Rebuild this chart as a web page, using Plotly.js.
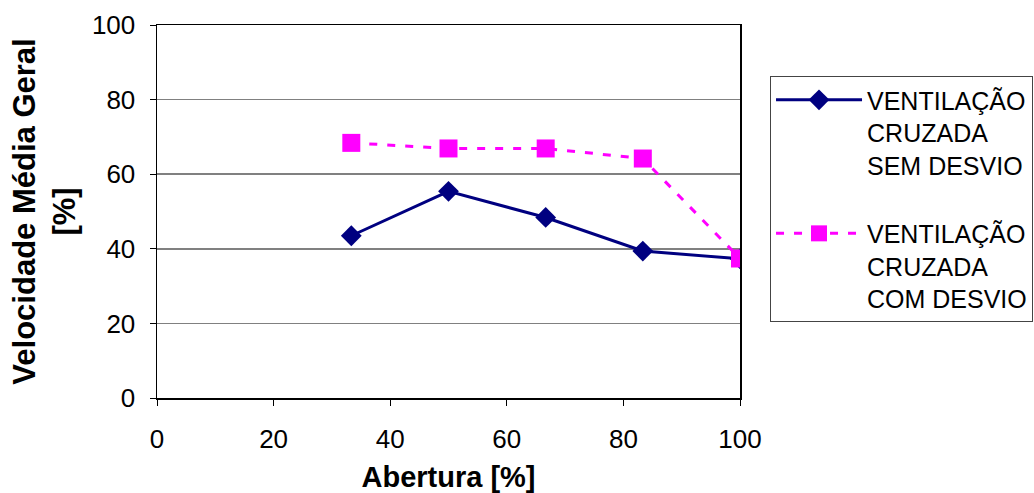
<!DOCTYPE html>
<html>
<head>
<meta charset="utf-8">
<script src="https://cdn.plot.ly/plotly-3.0.1.min.js"></script>
<style>html,body{margin:0;padding:0;background:#fff;}#chart{width:1034px;height:493px;}</style>
</head>
<body>
<div id="chart"></div>
<script>
const abertura = [33.33, 50, 66.67, 83.33, 100];
const semDesvio = [43.5, 55.4, 48.4, 39.4, 37.3];
const comDesvio = [68.4, 66.9, 66.9, 64.2, 37.4];
const serieNames = ["VENTILAÇÃO<br>CRUZADA<br>SEM DESVIO", "VENTILAÇÃO<br>CRUZADA<br>COM DESVIO"];
const xTicks = [0, 20, 40, 60, 80, 100];
const yTicks = [0, 20, 40, 60, 80, 100];

const font = "Liberation Sans, Arial, sans-serif";

const traces = [
  {
    x: abertura, y: semDesvio, name: serieNames[0], mode: "lines+markers", legendgroup: "a",
    line: {color: "#000080", width: 3},
    marker: {symbol: "diamond", size: 16, color: "#000080"}
  },
  {
    x: abertura, y: comDesvio, name: serieNames[1], mode: "lines+markers", legendgroup: "b",
    line: {color: "#FF00FF", width: 3, dash: "8px,10px"},
    marker: {symbol: "square", size: 18, color: "#FF00FF"}
  }
];

const layout = {
  width: 1034, height: 493,
  margin: {l: 157, r: 294, t: 25, b: 95, autoexpand: false},
  paper_bgcolor: "#fff", plot_bgcolor: "#fff",
  font: {family: font, color: "#000", size: 24},
  showlegend: true,
  legend: {
    x: 1.0515, y: 0.863, xanchor: "left", yanchor: "top",
    bordercolor: "#444", borderwidth: 1, bgcolor: "#fff",
    font: {family: font, size: 25, color: "#000"},
    itemwidth: 86, tracegroupgap: 33, valign: "top"
  },
  xaxis: {
    range: [0, 100], tickvals: xTicks, ticks: "outside", ticklen: 6, tickcolor: "#000",
    showline: true, linecolor: "#000", linewidth: 1.5, mirror: true,
    showgrid: false, zeroline: false, ticklabelstandoff: 11,
    tickfont: {family: font, size: 26},
    title: {text: "<b>Abertura [%]</b>", font: {family: font, size: 29}, standoff: 14}
  },
  yaxis: {
    range: [0, 100], tickvals: yTicks, ticks: "outside", ticklen: 6, tickcolor: "#000",
    showline: true, linecolor: "#000", linewidth: 1.5, mirror: true,
    showgrid: true, gridcolor: "#808080", gridwidth: 1.5, zeroline: false, ticklabelstandoff: 9,
    tickfont: {family: font, size: 26},
    title: {text: "<b>Velocidade Média Geral<br>[%]</b>", font: {family: font, size: 31}, standoff: 7}
  }
};

Plotly.newPlot("chart", traces, layout, {staticPlot: true, displayModeBar: false});
</script>
</body>
</html>
